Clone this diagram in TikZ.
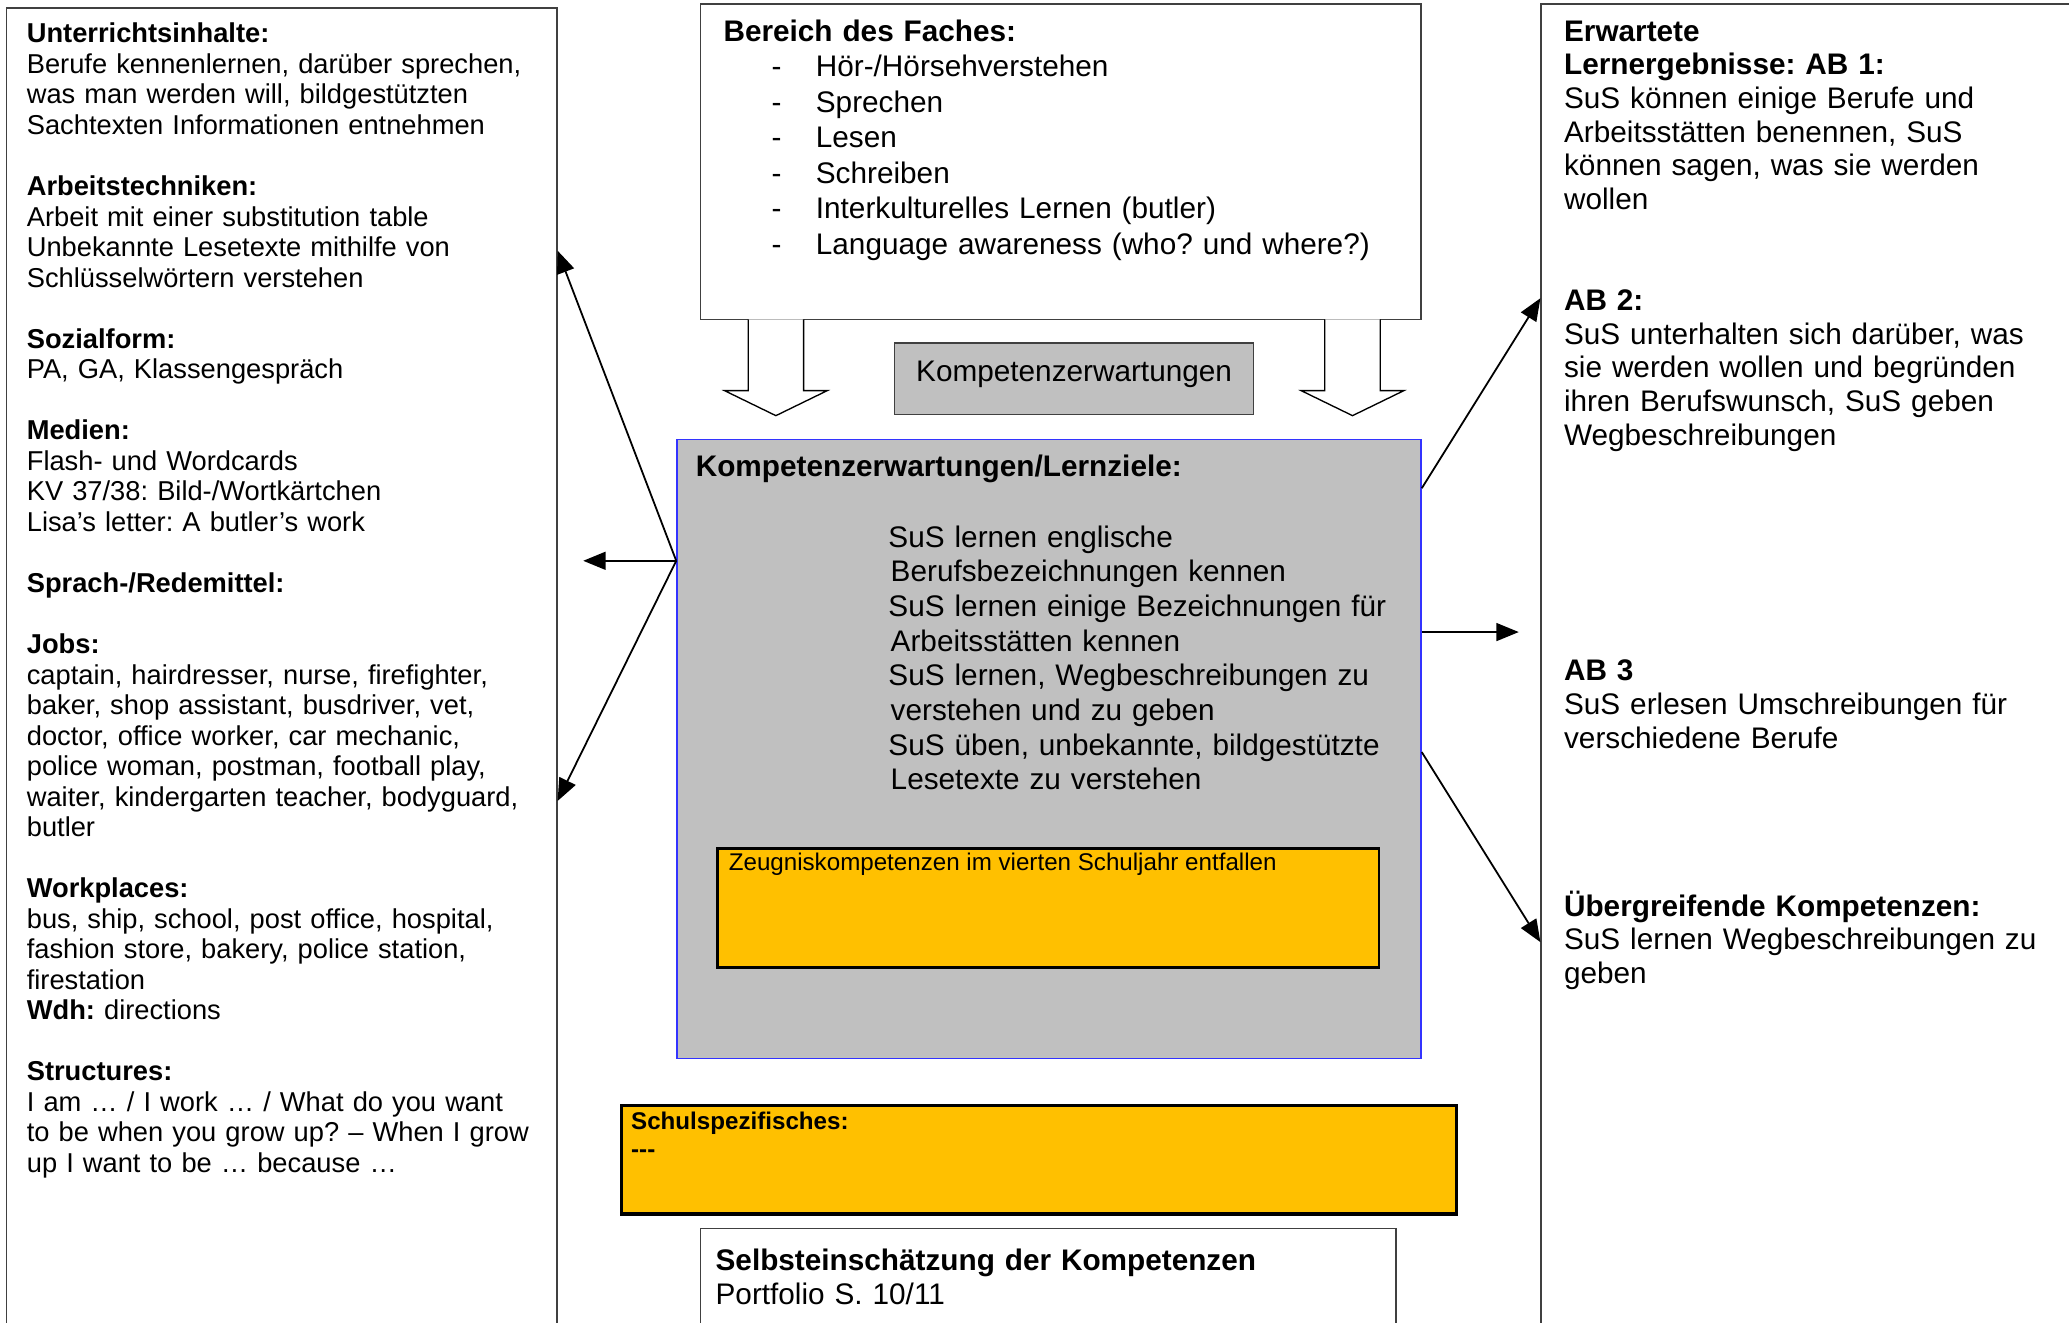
\documentclass[tikz,border=0pt]{standalone}
\usepackage{fontspec}
\setmainfont{Liberation Sans}
\usetikzlibrary{arrows.meta, positioning, fit, calc}
\frenchspacing

\definecolor{kgrau}{HTML}{C0C0C0}
\definecolor{kgelb}{HTML}{FFC000}
\definecolor{kblau}{HTML}{3333FF}
\definecolor{krand}{HTML}{404040}

\newcommand{\fklein}{\fontsize{12.2}{13.65}\selectfont}
\newcommand{\fnorm}{\fontsize{13.3}{15.05}\selectfont}

\begin{document}
\begin{tikzpicture}[
    x=0.59pt, y=-0.59pt,
    rahmen/.style={rectangle, draw=krand, line width=0.7pt, fill=white, inner sep=0pt},
    gelbbox/.style={rectangle, draw=black, fill=kgelb, line width=1.2pt, inner sep=0pt},
    txt/.style={anchor=north west, inner sep=0pt, align=left},
    arrow/.style={-{Triangle[length=10pt, width=8pt]}, line width=0.8pt},
    hohl/.style={draw=black, line width=0.6pt, fill=white}
]
\clip (0,0) rectangle (1568,1002);
\fill[white] (0,0) rectangle (1568,1002);

% --- Rahmen ---
\node[rahmen, fit={(5,6) (422,1030)}] (inhalte) {};
\node[rahmen, fit={(1168,3) (1590,1030)}] (ergebnisse) {};
\node[rahmen, fit={(531,3) (1077,242)}] (faches) {};
\node[rahmen, fill=kgrau, fit={(678,260) (950,314)}] (kompbox) {};
\node[rahmen, fill=kgrau, draw=kblau, line width=0.6pt, fit={(513,333) (1077,802)}] (lernziele) {};
\node[gelbbox, fit={(544,643) (1045,733)}] (zeugnis) {};
\node[gelbbox, line width=1.4pt, fit={(471,838) (1104,920)}] (schule) {};
\node[rahmen, fit={(531,931) (1058,1030)}] (selbst) {};

% --- Hohlpfeile ---
\foreach \cx in {588,1025}
  \draw[hohl] (\cx-21,242) -- (\cx-21,296) -- (\cx-39,296) -- (\cx,315)
    -- (\cx+39,296) -- (\cx+21,296) -- (\cx+21,242);

% --- Texte ---
\node[font=\fnorm] (komptext) at ($(kompbox.center)+(0,-3)$) {Kompetenzerwartungen};

\node[txt, font=\fklein, text width=236pt] (inhalttext) at (20,16) {\strut\textbf{Unterrichtsinhalte:}\\
  Berufe kennenlernen, darüber sprechen,\\
  was man werden will, bildgestützten\\
  Sachtexten Informationen entnehmen\\[\baselineskip]
  \textbf{Arbeitstechniken:}\\
  Arbeit mit einer substitution table\\
  Unbekannte Lesetexte mithilfe von\\
  Schlüsselwörtern verstehen\\[\baselineskip]
  \textbf{Sozialform:}\\
  PA, GA, Klassengespräch\\[\baselineskip]
  \textbf{Medien:}\\
  Flash- und Wordcards\\
  KV 37/38: Bild-/Wortkärtchen\\
  Lisa’s letter: A butler’s work\\[\baselineskip]
  \textbf{Sprach-/Redemittel:}\\[\baselineskip]
  \textbf{Jobs:}\\
  captain, hairdresser, nurse, firefighter,\\
  baker, shop assistant, busdriver, vet,\\
  doctor, office worker, car mechanic,\\
  police woman, postman, football play,\\
  waiter, kindergarten teacher, bodyguard,\\
  butler\\[\baselineskip]
  \textbf{Workplaces:}\\
  bus, ship, school, post office, hospital,\\
  fashion store, bakery, police station,\\
  firestation\\
  \textbf{Wdh:} directions\\[\baselineskip]
  \textbf{Structures:}\\
  I am … / I work … / What do you want\\
  to be when you grow up? – When I grow\\
  up I want to be … because …};

\node[txt, font=\fontsize{13.3}{15.9}\selectfont, text width=300pt] (fachtext) at (548,12) {\strut\textbf{Bereich des Faches:}\\
  \hspace*{21.5pt}\makebox[19.8pt][l]{-}Hör-/Hörsehverstehen\\
  \hspace*{21.5pt}\makebox[19.8pt][l]{-}Sprechen\\
  \hspace*{21.5pt}\makebox[19.8pt][l]{-}Lesen\\
  \hspace*{21.5pt}\makebox[19.8pt][l]{-}Schreiben\\
  \hspace*{21.5pt}\makebox[19.8pt][l]{-}Interkulturelles Lernen (butler)\\
  \hspace*{21.5pt}\makebox[19.8pt][l]{-}Language awareness (who? und where?)};

\node[anchor=base west, inner sep=0pt, font=\fnorm\bfseries] (lztitel) at (527,361) {Kompetenzerwartungen/Lernziele:};
\node[txt, font=\fontsize{13.3}{15.5}\selectfont, text width=230pt] (lztext) at (673,396) {\strut SuS lernen englische\\
  \hspace*{1pt}Berufsbezeichnungen kennen\\
  SuS lernen einige Bezeichnungen für\\
  \hspace*{1pt}Arbeitsstätten kennen\\
  SuS lernen, Wegbeschreibungen zu\\
  \hspace*{1pt}verstehen und zu geben\\
  SuS üben, unbekannte, bildgestützte\\
  \hspace*{1pt}Lesetexte zu verstehen};

\node[anchor=base west, inner sep=0pt, font=\fontsize{10.8}{12}\selectfont] (zeugnistext) at (552,660) {Zeugniskompetenzen im vierten Schuljahr entfallen};

\node[txt, font=\fontsize{10.8}{12.4}\selectfont, text width=200pt] (schultext) at (478,841) {\strut\textbf{Schulspezifisches:}\\ \textbf{-{}-{}-}};

\node[txt, font=\fontsize{13.3}{15.3}\selectfont, text width=280pt] (selbsttext) at (542,944) {\strut\textbf{Selbsteinschätzung der Kompetenzen}\\ Portfolio S. 10/11};

\node[txt, font=\fnorm, text width=226pt] (ergtext) at (1185,13) {\strut\textbf{Erwartete}\\
  \textbf{Lernergebnisse: AB 1:}\\
  SuS können einige Berufe und\\
  Arbeitsstätten benennen, SuS\\
  können sagen, was sie werden\\
  wollen\\[2\baselineskip]
  \textbf{AB 2:}\\
  SuS unterhalten sich darüber, was\\
  sie werden wollen und begründen\\
  ihren Berufswunsch, SuS geben\\
  Wegbeschreibungen\\[6\baselineskip]
  \textbf{AB 3}\\
  SuS erlesen Umschreibungen für\\
  verschiedene Berufe\\[4\baselineskip]
  \textbf{Übergreifende Kompetenzen:}\\
  SuS lernen Wegbeschreibungen zu\\
  geben};

% --- Pfeile ---
\coordinate (lzw) at (lernziele.west |- 0,425);
\coordinate (lmitte) at (442,425);
\coordinate (rmitte) at (1151,479);
\draw[arrow] (lzw) -- (inhalte.east |- 0,190);
\draw[arrow] (lzw) -- (lmitte);
\draw[arrow] (lzw) -- (inhalte.east |- 0,607);
\draw[arrow] (lernziele.east |- 0,370) -- (ergebnisse.west |- 0,226);
\draw[arrow] (lernziele.east |- 0,479) -- (rmitte);
\draw[arrow] (lernziele.east |- 0,570) -- (ergebnisse.west |- 0,714);

\end{tikzpicture}
\end{document}
